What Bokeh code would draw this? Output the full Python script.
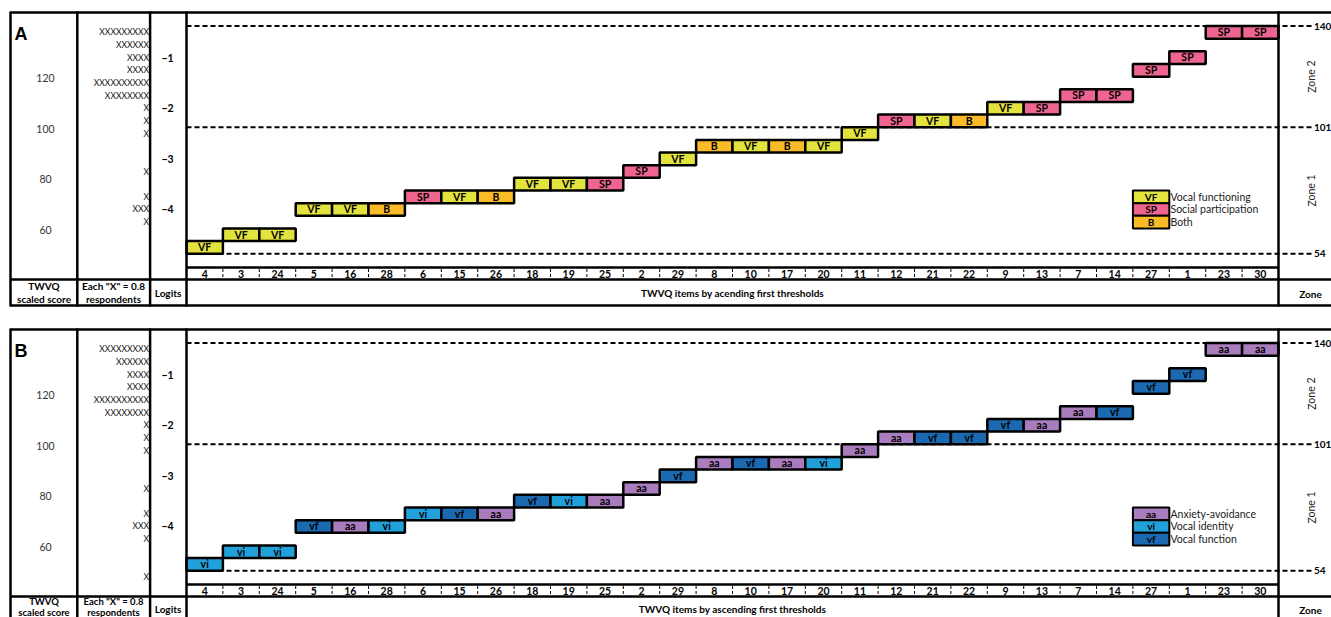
from bokeh.plotting import figure
from bokeh.layouts import column
from bokeh.models import Range1d
from bokeh.embed import file_html
from bokeh.resources import INLINE
from bokeh.core.properties import value

# ---------------- data ----------------
items = [4, 3, 24, 5, 16, 28, 6, 15, 26, 18, 19, 25, 2, 29, 8, 10, 17, 20, 11,
         12, 21, 22, 9, 13, 7, 14, 27, 1, 23, 30]
thresholds = [53, 58, 58, 68, 68, 68, 73, 73, 73, 78, 78, 78, 83, 88, 93, 93, 93, 93, 98,
              103, 103, 103, 108, 108, 113, 113, 123, 128, 138, 138]
domains_a = ["VF", "VF", "VF", "VF", "VF", "B", "SP", "VF", "B", "VF", "VF", "SP", "SP", "VF",
             "B", "VF", "B", "VF", "VF", "SP", "VF", "B", "VF", "SP", "SP", "SP", "SP", "SP",
             "SP", "SP"]
domains_b = ["vi", "vi", "vi", "vf", "aa", "vi", "vi", "vf", "aa", "vf", "vi", "aa", "aa", "vf",
             "aa", "vf", "aa", "vi", "aa", "aa", "vf", "vf", "vf", "aa", "aa", "vf", "vf", "vf",
             "aa", "aa"]
legend_codes_a = ["VF", "SP", "B"]
legend_names_a = ["Vocal functioning", "Social participation", "Both"]
legend_codes_b = ["aa", "vi", "vf"]
legend_names_b = ["Anxiety-avoidance", "Vocal identity", "Vocal function"]
colors_a = {"VF": "#E2E33F", "SP": "#EE6690", "B": "#F9BB27"}
colors_b = {"aa": "#A97CBD", "vi": "#22A0DA", "vf": "#1B69B1"}

score_ticks = [120, 100, 80, 60]
logit_ticks = [-1, -2, -3, -4]
person_levels_a = [138, 133, 128, 123, 118, 113, 108, 103, 98, 83, 73, 68, 63]
person_counts_a = [9, 6, 4, 4, 10, 8, 1, 1, 1, 1, 1, 3, 1]
person_levels_b = [138, 133, 128, 123, 118, 113, 108, 103, 98, 83, 73, 68, 63, 48]
person_counts_b = [9, 6, 4, 4, 10, 8, 1, 1, 1, 1, 1, 3, 1, 1]
zone_labels = ["140", "101", "54"]
zone_line_pos = [140.5, 100.5, 50.5]
zone_names = ["Zone 2", "Zone 1"]

# ---------------- layout helpers ----------------
FONT = "Lato"
COLW = 36.4
PXU = 2.53
BAR_H = 5


def dx(px):
    return (px - 186) / COLW


def sy(py):
    return 100 + (128 - py) / PXU


def logit_to_score(l):
    return 148 + 20 * l


def txt(p, x, y, t, size, bold=False, align="center", baseline="middle",
        color="black", angle=0.0, font=FONT):
    p.text(x=x, y=y, text=t, text_font=value(font), text_font_size=size,
           text_font_style="bold" if bold else "normal", text_align=align,
           text_baseline=baseline, text_color=color, angle=angle)


def build(letter, domains, colors, leg_codes, leg_names, levels, counts, footer,
          height, bottom_py, foot_rows):
    p = figure(width=1331, height=height, x_range=Range1d(dx(0), dx(1331)),
               y_range=Range1d(sy(bottom_py), sy(0)), output_backend="svg",
               toolbar_location=None, min_border=0, x_axis_type=None, y_axis_type=None)
    p.outline_line_color = None
    p.grid.visible = False
    p.background_fill_color = "white"
    p.border_fill_color = "white"

    xe = dx(1340)
    # dashed zone lines
    p.segment(x0=[0] * 3, x1=[dx(1312)] * 3, y0=zone_line_pos, y1=zone_line_pos,
              line_color="black", line_width=2, line_dash="5 3")

    # item bars
    n = len(items)
    p.quad(left=list(range(n)), right=[i + 1 for i in range(n)],
           bottom=[t - BAR_H / 2 for t in thresholds], top=[t + BAR_H / 2 for t in thresholds],
           fill_color=[colors[d] for d in domains], line_color="black", line_width=2.5)
    txt(p, [i + 0.5 for i in range(n)], [t + 0.1 for t in thresholds], domains, "10.5px", bold=True)

    # legend
    k = len(leg_codes)
    p.quad(left=[26] * k, right=[27] * k,
           bottom=[70.5 - 5 * j for j in range(k)], top=[75.5 - 5 * j for j in range(k)],
           fill_color=[colors[c] for c in leg_codes], line_color="black", line_width=2)
    txt(p, [26.5] * k, [73.1 - 5 * j for j in range(k)], leg_codes, "10px", bold=True)
    txt(p, [dx(1170)] * k, [73.1 - 5 * j for j in range(k)], leg_names, "10.5px",
        align="left", color="#222222")

    # structure lines
    p.segment(x0=[dx(10), 0, dx(10), dx(10)], x1=[xe, 30, xe, xe],
              y0=[sy(12), sy(267), sy(279), sy(305)], y1=[sy(12), sy(267), sy(279), sy(305)],
              line_color="black", line_width=2.5)
    vx = [dx(10), -3, -1, 0, 30]
    p.segment(x0=vx, x1=vx, y0=[sy(11)] * 5, y1=[sy(306)] * 5,
              line_color="black", line_width=2.5)
    sep = list(range(1, n))
    p.segment(x0=sep, x1=sep, y0=[sy(268.5)] * len(sep), y1=[sy(278)] * len(sep),
              line_color="black", line_width=1, line_dash="3 2")

    # item numbers
    txt(p, [i + 0.5 for i in range(n)], [sy(273)] * n, [str(v) for v in items], "10.5px", bold=True)

    # zone labels
    txt(p, [dx(1313.5)] * 3, zone_line_pos, zone_labels, "10px", bold=True, align="left")
    txt(p, [dx(1311)] * 2, [(zone_line_pos[0] + zone_line_pos[1]) / 2,
                            (zone_line_pos[1] + zone_line_pos[2]) / 2],
        zone_names, "10.5px", angle=1.5708, color="#222222")

    # left columns
    txt(p, [dx(45)] * len(score_ticks), score_ticks, [str(s) for s in score_ticks], "10.5px",
        color="#333333")
    txt(p, [dx(167)] * len(logit_ticks), [logit_to_score(l) for l in logit_ticks],
        ["\u2212" + str(-l) for l in logit_ticks], "10.5px", bold=True)
    txt(p, [dx(148.5)] * len(levels), levels, ["X" * c for c in counts], "8.5px",
        align="right", color="#111111")

    # footer labels
    r1, r2, rm, fs = foot_rows
    txt(p, [dx(43.5)], [sy(r1)], ["TWVQ"], fs, bold=True)
    txt(p, [dx(43.5)], [sy(r2)], ["scaled score"], fs, bold=True)
    txt(p, [dx(113)], [sy(r1)], ['Each "X" = 0.8'], fs, bold=True)
    txt(p, [dx(113)], [sy(r2)], ["respondents"], fs, bold=True)
    txt(p, [dx(167.5)], [sy(rm)], ["Logits"], "10px", bold=True)
    txt(p, [15], [sy(rm)], [footer], "10px", bold=True)
    txt(p, [dx(1310)], [sy(rm + 1)], ["Zone"], "10px", bold=True)

    # panel letter
    txt(p, [dx(14)], [sy(33.5)], [letter], "18px", bold=True, align="left",
        baseline="alphabetic", font="Liberation Sans")
    return p


pa = build("A", domains_a, colors_a, legend_codes_a, legend_names_a,
           person_levels_a, person_counts_a, "TWVQ items by acending first thresholds", 317, 317,
           (285.5, 298, 292, "10px"))
pb = build("B", domains_b, colors_b, legend_codes_b, legend_names_b,
           person_levels_b, person_counts_b, "TWVQ items by ascending first thresholds", 300, 300,
           (284, 294.5, 291, "9.5px"))

layout = column(pa, pb, spacing=0)
open("out.html", "w").write(file_html(layout, INLINE))
